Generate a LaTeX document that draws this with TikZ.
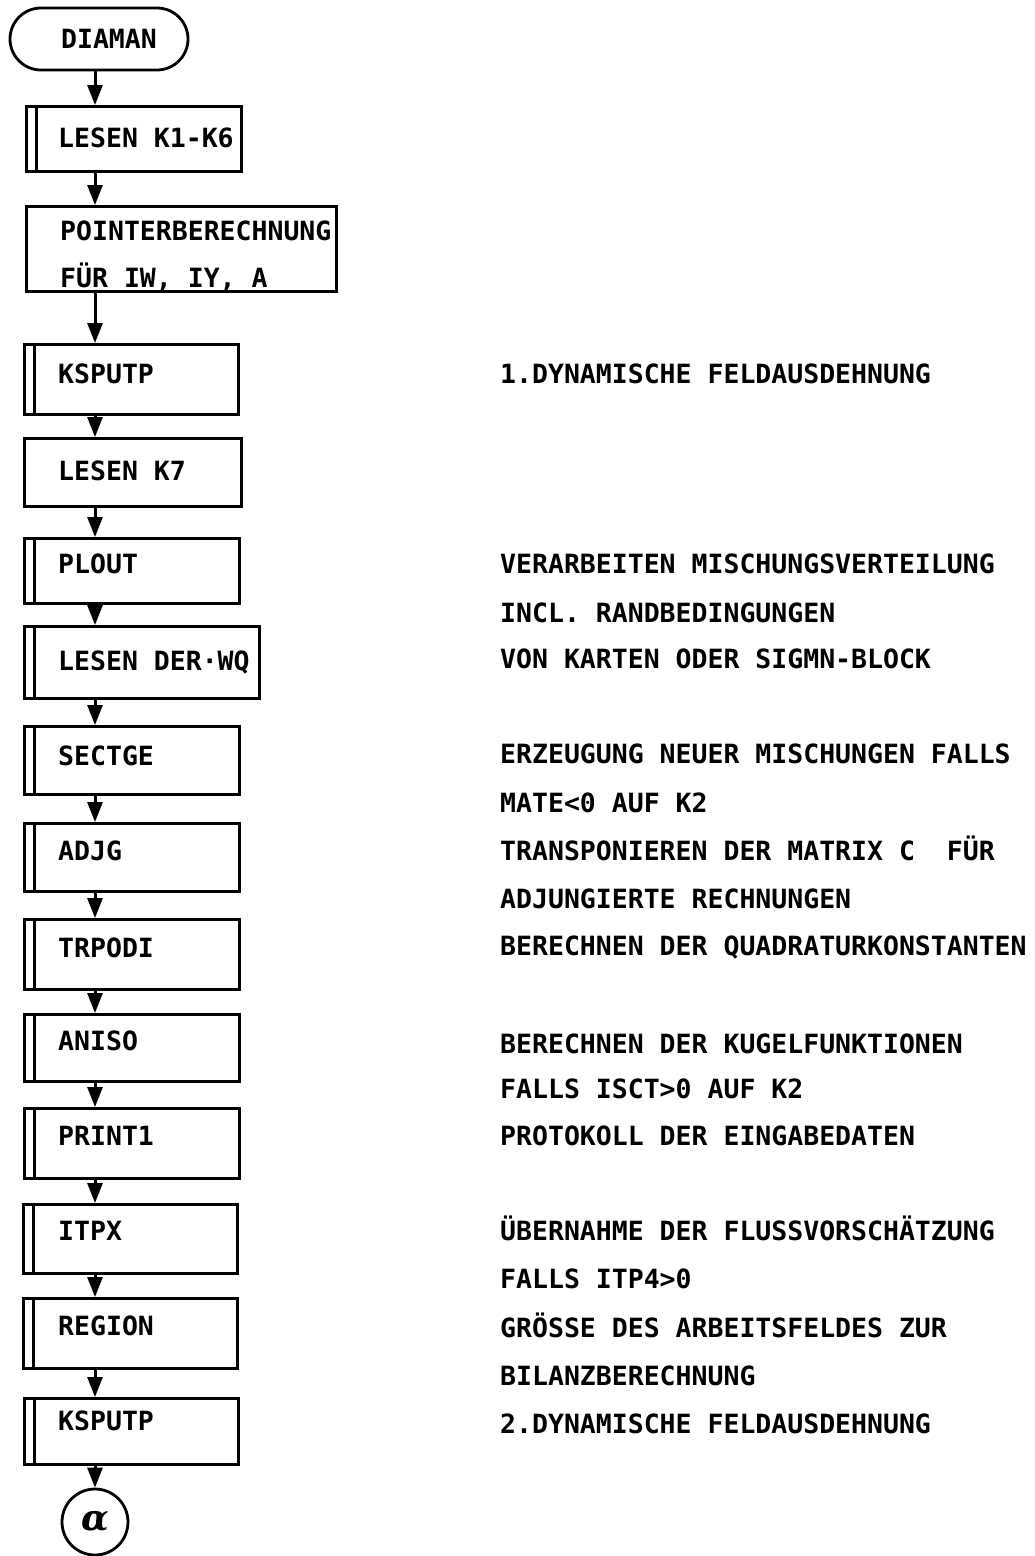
\documentclass[tikz,border=0pt]{standalone}
\usepackage{fontspec}
\setmonofont{DejaVu Sans Mono}
\newfontfamily\alphafont{DejaVu Serif}
\usetikzlibrary{arrows.meta,shapes.misc}
\frenchspacing

\tikzset{
  proc/.style={draw,line width=2.8pt,anchor=north west,inner sep=0pt},
  subproc/.style={proc,path picture={\draw[line width=2.8pt] ([xshift=10pt]path picture bounding box.north west)--([xshift=10pt]path picture bounding box.south west);}},
  lbl/.style={anchor=base west,inner sep=0pt,font={\fontsize{26.5}{48}\ttfamily\bfseries}},
  flow/.style={line width=3pt,-{Triangle[length=20pt,width=15pt]}},
}

\begin{document}
\begin{tikzpicture}[x=1pt,y=-1pt]
\useasboundingbox (0,0) rectangle (1035,1556);
\coordinate (spine) at (95,0);
% terminal and program blocks
\node[draw,line width=2.8pt,rounded rectangle,minimum width=178pt,minimum height=62pt,inner sep=0pt,font={\fontsize{26.5}{30}\ttfamily\bfseries}] (start) at (99,39) {\hspace*{20pt}DIAMAN};
\node[subproc,minimum width=215pt,minimum height=65pt] (lesen1) at (25,105) {};
\node[proc,minimum width=310pt,minimum height=85pt] (pointer) at (25,205) {};
\node[subproc,minimum width=214pt,minimum height=70pt] (ksputp1) at (23,343) {};
\node[proc,minimum width=217pt,minimum height=68pt] (lesen7) at (23,437) {};
\node[subproc,minimum width=215pt,minimum height=65pt] (plout) at (23,537) {};
\node[subproc,minimum width=235pt,minimum height=72pt] (lesenwq) at (23,625) {};
\node[subproc,minimum width=215pt,minimum height=68pt] (sectge) at (23,725) {};
\node[subproc,minimum width=215pt,minimum height=68pt] (adjg) at (23,822) {};
\node[subproc,minimum width=215pt,minimum height=70pt] (trpodi) at (23,918) {};
\node[subproc,minimum width=215pt,minimum height=67pt] (aniso) at (23,1013) {};
\node[subproc,minimum width=215pt,minimum height=70pt] (print1) at (23,1107) {};
\node[subproc,minimum width=214pt,minimum height=69pt] (itpx) at (22,1203) {};
\node[subproc,minimum width=214pt,minimum height=70pt] (region) at (22,1297) {};
\node[subproc,minimum width=214pt,minimum height=66pt] (ksputp2) at (23,1397) {};
\node[draw,shape=circle,line width=2.8pt,minimum size=66pt,inner sep=0pt,font={\fontsize{36}{40}\alphafont\bfseries\itshape}] (conn) at (95,1522) {α};

% block texts
\node[lbl] (lesen1t) at (58,147) {LESEN K1-K6};
\node[lbl] (pointert) at (60,240) {POINTERBERECHNUNG};
\node[lbl] (pointeru) at (60,287) {FÜR IW, IY, A};
\node[lbl] (ksputp1t) at (58,383) {KSPUTP};
\node[lbl] (lesen7t) at (58,480) {LESEN K7};
\node[lbl] (ploutt) at (58,573) {PLOUT};
\node[lbl] (lesenwqt) at (58,670) {LESEN DER·WQ};
\node[lbl] (sectget) at (58,765) {SECTGE};
\node[lbl] (adjgt) at (58,860) {ADJG};
\node[lbl] (trpodit) at (58,957) {TRPODI};
\node[lbl] (anisot) at (58,1050) {ANISO};
\node[lbl] (print1t) at (58,1145) {PRINT1};
\node[lbl] (itpxt) at (58,1240) {ITPX};
\node[lbl] (regiont) at (58,1335) {REGION};
\node[lbl] (ksputp2t) at (58,1430) {KSPUTP};

% comments on the right
\foreach \y/\txt [count=\i] in {383/{1.DYNAMISCHE FELDAUSDEHNUNG},
    573/{VERARBEITEN MISCHUNGSVERTEILUNG}, 622/{INCL. RANDBEDINGUNGEN},
    668/{VON KARTEN ODER SIGMN-BLOCK}, 763/{ERZEUGUNG NEUER MISCHUNGEN FALLS},
    812/{MATE<0 AUF K2}, 860/{TRANSPONIEREN DER MATRIX C\ \ FÜR},
    908/{ADJUNGIERTE RECHNUNGEN}, 955/{BERECHNEN DER QUADRATURKONSTANTEN},
    1053/{BERECHNEN DER KUGELFUNKTIONEN}, 1098/{FALLS ISCT>0 AUF K2},
    1145/{PROTOKOLL DER EINGABEDATEN}, 1240/{ÜBERNAHME DER FLUSSVORSCHÄTZUNG},
    1288/{FALLS ITP4>0}, 1337/{GRÖSSE DES ARBEITSFELDES ZUR},
    1385/{BILANZBERECHNUNG}, 1433/{2.DYNAMISCHE FELDAUSDEHNUNG}}
  \node[lbl] (note\i) at (500,\y) {\txt};

% flow
\foreach \a/\b in {start/lesen1,lesen1/pointer,pointer/ksputp1,ksputp1/lesen7,lesen7/plout,plout/lesenwq,lesenwq/sectge,sectge/adjg,adjg/trpodi,trpodi/aniso,aniso/print1,print1/itpx,itpx/region,region/ksputp2,ksputp2/conn}
  \draw[flow] (\a.south -| spine) -- (\b.north -| spine);
\end{tikzpicture}
\end{document}
